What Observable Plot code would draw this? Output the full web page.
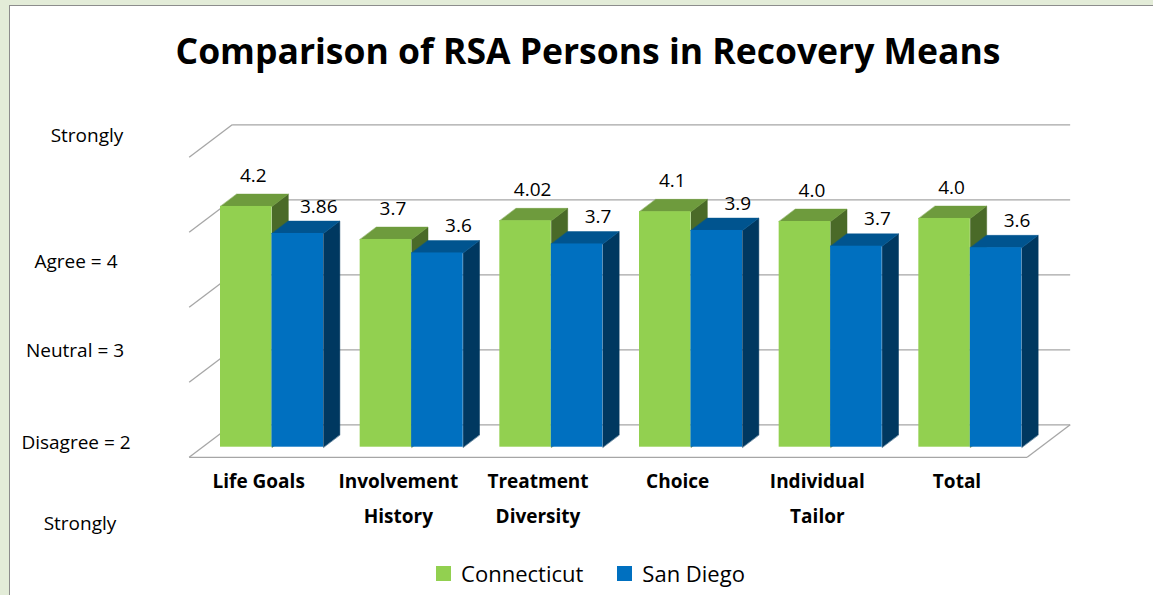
<!DOCTYPE html>
<html>
<head>
<meta charset="utf-8">
<script src="https://cdn.jsdelivr.net/npm/d3@7"></script>
<script src="https://cdn.jsdelivr.net/npm/@observablehq/plot@0.6"></script>
<style>
  html, body { margin: 0; padding: 0; }
  body { width: 1153px; height: 595px; overflow: hidden; position: relative;
         background: #e3ecd8; font-family: "Open Sans", sans-serif; color: #000; }
  #frame { position: absolute; left: 9px; top: 5px; width: 1150px; height: 600px;
           background: #fff; border: 1px solid #8c8c8c; box-sizing: border-box; }
  #title { position: absolute; left: 23px; width: 1130px; top: 28px; text-align: center;
           font-weight: 700; font-size: 35.5px; line-height: 44px; }
  #chart { position: absolute; left: 0; top: 90px; }
  .side { position: absolute; font-size: 19px; line-height: 24px; white-space: nowrap;
          transform: translate(-50%, -50%); }
  #legend { position: absolute; top: 558px; left: 0; width: 1153px; display: flex;
            justify-content: center; gap: 34px; font-size: 22px; line-height: 30px; padding-left: 28px; box-sizing: border-box; }
  #legend span.item { display: flex; align-items: center; gap: 10px; }
  #legend span.sw { display: inline-block; width: 15px; height: 15px; }
</style>
</head>
<body>
<div id="frame"></div>
<div id="title">Comparison of RSA Persons in Recovery Means</div>
<div id="chart"></div>
<div id="sides"></div>
<div id="legend"></div>
<script>
// ---------------- data ----------------
const categories = ["Life Goals", "Involvement\nHistory", "Treatment\nDiversity", "Choice", "Individual\nTailor", "Total"];
const seriesNames = ["Connecticut", "San Diego"];
const connecticut = [4.21, 3.77, 4.02, 4.14, 4.01, 4.05];
const sanDiego = [3.85, 3.59, 3.71, 3.89, 3.68, 3.66];
const connecticutLabels = ["4.2", "3.7", "4.02", "4.1", "4.0", "4.0"];
const sanDiegoLabels = ["3.86", "3.6", "3.7", "3.9", "3.7", "3.6"];
const gridValues = [1, 2, 3, 4, 5];
const sideLabels = ["Strongly", "Agree = 4", "Neutral = 3", "Disagree = 2", "Strongly"];

// ---------------- styles / layout ----------------
const colors = {
  "Connecticut": {front: "#92d050", top: "#6e9b3d", side: "#4a6a28"},
  "San Diego":   {front: "#0070c0", top: "#00548f", side: "#003860"}
};
const labelOffset = {"Connecticut": {dx: 7, dy: -31}, "San Diego": {dx: 21, dy: -27}};
const sideLabelPos = [[87, 135], [76, 261], [75, 350], [76, 442], [80, 523]];

const W = 1153, H = 468, TOP = 90;
const planeLeft = 202, planeRight = 1040;     // x-range of the bar front plane
const yBase = 446.7, pxPerValue = 75;          // y of value 1, px per unit
const depthX = 43, depthY = 32.5;              // full floor depth in px
const D0 = 0.31, D1 = 0.69;                    // bar front/back depth fractions
const pxPerU = (planeRight - planeLeft) / categories.length;
const PAD = 18 / pxPerU, BW = 51.5 / pxPerU;

// project a 3D point (u category units, v value, d depth fraction) into scale units
const P = (u, v, d) => ({x: u + (d - D0) * depthX / pxPerU, y: v + (d - D0) * depthY / pxPerValue});

const valuesBySeries = {"Connecticut": connecticut, "San Diego": sanDiego};
const labelsBySeries = {"Connecticut": connecticutLabels, "San Diego": sanDiegoLabels};

const bars = [];
categories.forEach((c, i) => {
  seriesNames.forEach((s, k) => {
    const u0 = i + PAD + k * BW, u1 = u0 + BW, v = valuesBySeries[s][i];
    bars.push({cat: c, series: s, u0, u1, v, label: labelsBySeries[s][i]});
  });
});

function polys(face) {
  const out = [];
  bars.forEach((b, n) => {
    const pts = face === "top"
      ? [P(b.u0, b.v, D0), P(b.u1, b.v, D0), P(b.u1, b.v, D1), P(b.u0, b.v, D1)]
      : [P(b.u1, 1, D0), P(b.u1, b.v, D0), P(b.u1, b.v, D1), P(b.u1, 1, D1)];
    pts.forEach(p => out.push({...p, id: n, series: b.series}));
  });
  return out;
}
const tops = polys("top"), sides = polys("side");

// grid geometry
const backLines = gridValues.map(v => ({a: P(0, v, 1), b: P(categories.length, v, 1)}));
const leftDiags = gridValues.map(v => ({a: P(0, v, 0), b: P(0, v, 1)}));
const floorLines = [
  {a: P(0, gridValues[0], 0), b: P(categories.length, gridValues[0], 0)},
  {a: P(categories.length, gridValues[0], 0), b: P(categories.length, gridValues[0], 1)}
];
const gridLines = [...backLines, ...leftDiags, ...floorLines];
const catPos = categories.map((c, i) => ({...P(i + PAD + BW, gridValues[0], 0), cat: c}));

const marks = [
  Plot.link(gridLines, {x1: d => d.a.x, y1: d => d.a.y, x2: d => d.b.x, y2: d => d.b.y,
    stroke: "#a6a6a6", strokeWidth: 1.3})
];
seriesNames.forEach(s => {
  const col = colors[s];
  marks.push(
    Plot.line(sides.filter(d => d.series === s), {x: "x", y: "y", z: "id", curve: "linear-closed",
      fill: col.side, stroke: col.side, strokeWidth: 0.5}),
    Plot.line(tops.filter(d => d.series === s), {x: "x", y: "y", z: "id", curve: "linear-closed",
      fill: col.top, stroke: col.top, strokeWidth: 0.5}),
    Plot.rect(bars.filter(d => d.series === s), {x1: "u0", x2: "u1", y1: gridValues[0], y2: "v",
      fill: col.front, inset: 0})
  );
});
seriesNames.forEach(s => {
  marks.push(Plot.text(bars.filter(d => d.series === s), {
    x: d => (d.u0 + d.u1) / 2, y: "v", text: "label",
    dx: labelOffset[s].dx, dy: labelOffset[s].dy,
    fontSize: 19, fill: "#000", fontFamily: "Open Sans"
  }));
});
marks.push(Plot.text(catPos, {x: "x", y: "y", text: "cat", lineAnchor: "top", dy: 6,
  lineHeight: 1.85, fontSize: 19, fontWeight: 700, fill: "#000", fontFamily: "Open Sans"}));

const chart = Plot.plot({
  width: W, height: H,
  marginLeft: planeLeft, marginRight: W - planeRight,
  marginTop: (yBase - pxPerValue * (gridValues.length - 1)) - TOP,
  marginBottom: H - (yBase - TOP),
  x: {type: "linear", domain: [0, categories.length], axis: null},
  y: {type: "linear", domain: [gridValues[0], gridValues[gridValues.length - 1]], axis: null},
  style: {background: "transparent", overflow: "visible", fontFamily: "Open Sans"},
  marks
});
document.getElementById("chart").appendChild(chart);

// side annotations
const sidesEl = document.getElementById("sides");
sideLabels.forEach((t, i) => {
  const d = document.createElement("div");
  d.className = "side";
  d.textContent = t;
  d.style.left = sideLabelPos[i][0] + "px";
  d.style.top = sideLabelPos[i][1] + "px";
  sidesEl.appendChild(d);
});

// legend
const legend = document.getElementById("legend");
seriesNames.forEach(s => {
  const it = document.createElement("span");
  it.className = "item";
  const sw = document.createElement("span");
  sw.className = "sw";
  sw.style.background = colors[s].front;
  const tx = document.createElement("span");
  tx.textContent = s;
  it.appendChild(sw); it.appendChild(tx);
  legend.appendChild(it);
});
</script>
</body>
</html>
